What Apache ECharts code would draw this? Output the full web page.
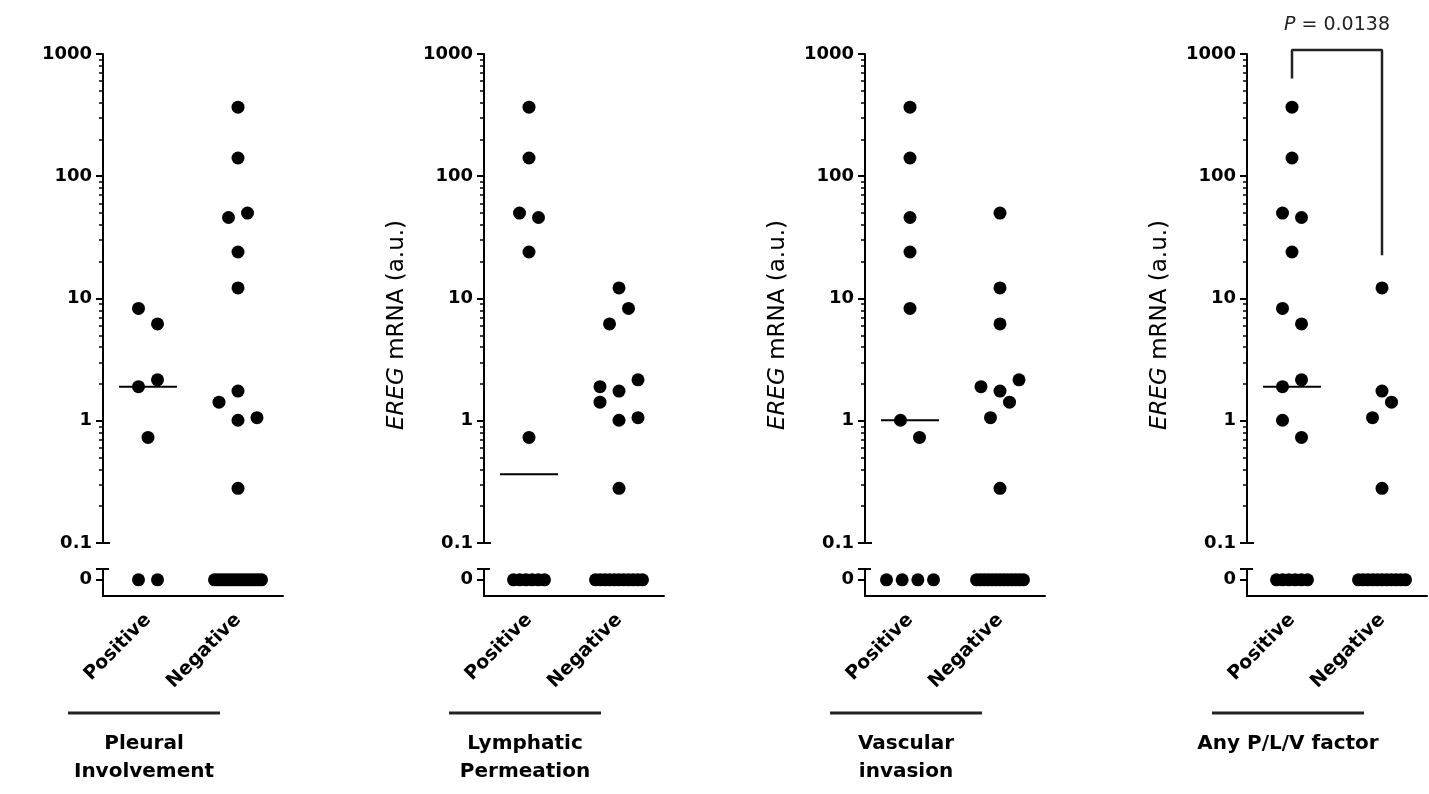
<!DOCTYPE html>
<html>
<head>
<meta charset="utf-8">
<script src="https://cdn.jsdelivr.net/npm/echarts@6/dist/echarts.min.js"></script>
<style>
  html, body { margin: 0; background: #fff; }
  #chart { width: 1429px; height: 794px; }
</style>
</head>
<body>
<div id="chart"></div>
<script>
// EREG mRNA (a.u.) per patient, grouped by pathology factor; 0 = not detected
const groups = ['Positive', 'Negative']
const factorNames = ['Pleural\nInvolvement', 'Lymphatic\nPermeation', 'Vascular\ninvasion', 'Any P/L/V factor']
const yTicks = [0.1, 1, 10, 100, 1000]

const pleuralPos = [8.3, 6.2, 1.9, 2.16, 0.73, 0, 0]
const pleuralNeg = [367, 141, 46, 50, 24, 12.2, 1.75, 1.42, 1.01, 1.06, 0.28,
  0, 0, 0, 0, 0, 0, 0, 0, 0, 0, 0, 0, 0, 0, 0]
const lymphPos = [367, 141, 50, 46, 24, 0.73, 0, 0, 0, 0, 0, 0]
const lymphNeg = [12.2, 6.2, 8.3, 1.9, 1.75, 2.16, 1.42, 1.01, 1.06, 0.28,
  0, 0, 0, 0, 0, 0, 0, 0, 0, 0, 0]
const vascPos = [367, 141, 46, 24, 8.3, 1.01, 0.73, 0, 0, 0, 0]
const vascNeg = [50, 12.2, 6.2, 1.9, 1.75, 2.16, 1.06, 1.42, 0.28,
  0, 0, 0, 0, 0, 0, 0, 0, 0, 0, 0, 0, 0]
const anyPos = [367, 141, 50, 46, 24, 8.3, 6.2, 1.9, 2.16, 1.01, 0.73, 0, 0, 0, 0, 0, 0]
const anyNeg = [12.2, 1.75, 1.06, 1.42, 0.28, 0, 0, 0, 0, 0, 0, 0, 0, 0, 0, 0]

// significance bracket on the last panel
const pValue = '0.0138'
const bracketY = [630, 1080, 22.6] // left leg end, top, right leg end

const panels = [
  { title: factorNames[0], pos: pleuralPos, neg: pleuralNeg, yTitle: false },
  { title: factorNames[1], pos: lymphPos, neg: lymphNeg, yTitle: true },
  { title: factorNames[2], pos: vascPos, neg: vascNeg, yTitle: true },
  { title: factorNames[3], pos: anyPos, neg: anyNeg, yTitle: true }
]

// layout
const PANEL_LEFT = [103, 484, 865, 1247]
const PANEL_W = 180
const MAIN_TOP = 54, MAIN_H = 489
const ZERO_TOP = 569, ZERO_H = 27
const PX = PANEL_W / 2 // pixels per x unit (x axis runs 0..2)
const STEP = 19 / PX, SPAN = 47 / PX, DENSE = 6.2 / PX
const MEDIAN_HALF = 29 / PX
const FONT = 'DejaVu Sans'
const INK = '#000'

// log-scale row binning, GraphPad-like scatter spreading
const BIN_W = 0.3, BIN_ORIGIN = 0.155

const minorTicks = []
for (let e = -1; e < 3; e++) {
  for (let k = 2; k <= 9; k++) minorTicks.push(+(k * Math.pow(10, e)).toPrecision(2))
}

function swarm(values, center) {
  const rows = {}
  values.forEach(v => {
    const key = v === 0 ? 'zero' : Math.floor((Math.log10(v) - BIN_ORIGIN) / BIN_W)
    if (!rows[key]) rows[key] = []
    rows[key].push(v)
  })
  const main = [], zero = []
  Object.keys(rows).forEach(key => {
    const row = rows[key]
    const n = row.length
    let step = 0
    if (n > 1) step = Math.min(n > 4 ? DENSE : STEP, SPAN / (n - 1))
    row.forEach((v, i) => {
      const pt = [center + (i - (n - 1) / 2) * step, v]
      if (v === 0) zero.push(pt)
      else main.push(pt)
    })
  })
  return { main, zero }
}

function median(values) {
  const s = values.slice().sort((a, b) => a - b)
  const m = s.length >> 1
  return s.length % 2 ? s[m] : (s[m - 1] + s[m]) / 2
}

const grid = [], xAxis = [], yAxis = [], series = [], graphic = []

const tickLabel = { fontFamily: FONT, fontWeight: 'bold', fontSize: 18, color: INK }

panels.forEach((p, i) => {
  const L = PANEL_LEFT[i]
  grid.push({ left: L, top: MAIN_TOP, width: PANEL_W, height: MAIN_H, outerBoundsMode: 'none' })
  grid.push({ left: L, top: ZERO_TOP, width: PANEL_W, height: ZERO_H, outerBoundsMode: 'none' })

  // x axes: hidden value axes for placing points, visible category axis for labels
  xAxis.push({ type: 'value', gridIndex: 2 * i, min: 0, max: 2, show: false })
  xAxis.push({
    type: 'value', gridIndex: 2 * i + 1, min: 0, max: 2, show: false, position: 'bottom',
    axisLine: { onZero: false }
  })
  xAxis.push({
    type: 'category', gridIndex: 2 * i + 1, data: groups, position: 'bottom',
    axisLine: { onZero: false, lineStyle: { color: INK, width: 2 } },
    axisTick: { alignWithLabel: true, length: 7, lineStyle: { color: INK, width: 2 } },
    axisLabel: { rotate: 45, interval: 0, margin: 21, fontFamily: FONT, fontWeight: 'bold', fontSize: 19, color: INK },
    splitLine: { show: false }
  })

  // main log axis
  yAxis.push({
    type: 'log', logBase: 10, gridIndex: 2 * i, min: 0.1, max: 1000, position: 'left',
    axisLine: { show: true, lineStyle: { color: INK, width: 2 } },
    axisTick: { show: true, length: 7, lineStyle: { color: INK, width: 2 } },
    axisLabel: { margin: 11, ...tickLabel, formatter: v => String(+(+v).toPrecision(3)) },
    splitLine: { show: false }
  })
  // minor ticks
  yAxis.push({
    type: 'log', logBase: 10, gridIndex: 2 * i, min: 0.1, max: 1000, position: 'left',
    axisLine: { show: false },
    axisTick: { show: true, length: 4, customValues: minorTicks, lineStyle: { color: INK, width: 1.5 } },
    axisLabel: { show: false }, splitLine: { show: false }
  })
  // break cap at 0.1 (inside half)
  yAxis.push({
    type: 'log', logBase: 10, gridIndex: 2 * i, min: 0.1, max: 1000, position: 'left',
    axisLine: { show: false },
    axisTick: { show: true, inside: true, length: 7, customValues: [yTicks[0]], lineStyle: { color: INK, width: 2 } },
    axisLabel: { show: false }, splitLine: { show: false }
  })
  // zero segment
  yAxis.push({
    type: 'value', gridIndex: 2 * i + 1, min: -1.5, max: 1, position: 'left',
    axisLine: { show: true, lineStyle: { color: INK, width: 2 } },
    axisTick: { show: true, length: 7, customValues: [0, 1], lineStyle: { color: INK, width: 2 } },
    axisLabel: { margin: 11, ...tickLabel, customValues: [0] },
    splitLine: { show: false }
  })
  yAxis.push({
    type: 'value', gridIndex: 2 * i + 1, min: -1.5, max: 1, position: 'left',
    axisLine: { show: false },
    axisTick: { show: true, inside: true, length: 6, customValues: [1], lineStyle: { color: INK, width: 2 } },
    axisLabel: { show: false }, splitLine: { show: false }
  })

  ;[p.pos, p.neg].forEach((vals, g) => {
    const center = 0.5 + g
    const pts = swarm(vals, center)
    series.push({
      type: 'scatter', xAxisIndex: 3 * i, yAxisIndex: 5 * i, data: pts.main,
      symbolSize: 13, itemStyle: { color: INK, opacity: 1 }, silent: true, z: 3
    })
    series.push({
      type: 'scatter', xAxisIndex: 3 * i + 1, yAxisIndex: 5 * i + 3, data: pts.zero,
      symbolSize: 13, itemStyle: { color: INK, opacity: 1 }, silent: true, z: 3
    })
    const m = median(vals)
    if (m > 0) {
      series.push({
        type: 'line', xAxisIndex: 3 * i, yAxisIndex: 5 * i,
        data: [[center - MEDIAN_HALF, m], [center + MEDIAN_HALF, m]],
        symbol: 'none', lineStyle: { color: INK, width: 2 }, silent: true, z: 2
      })
    }
  })

  // group bar and factor name under the axis
  const cx = L + 41
  graphic.push({
    type: 'line', shape: { x1: cx - 76, y1: 713, x2: cx + 76, y2: 713 },
    style: { stroke: '#222', lineWidth: 3 }
  })
  graphic.push({
    type: 'text', x: cx, y: 730,
    style: {
      text: p.title, fontFamily: FONT, fontWeight: 'bold', fontSize: 20, lineHeight: 28,
      fill: INK, align: 'center', verticalAlign: 'top'
    }
  })
  if (p.yTitle) {
    graphic.push({
      type: 'text', x: L - 87, y: 325, rotation: Math.PI / 2,
      style: {
        text: '{it|EREG} mRNA (a.u.)', fontFamily: FONT, fontSize: 23, fill: INK,
        align: 'center', verticalAlign: 'middle',
        rich: { it: { fontFamily: FONT, fontSize: 23, fontStyle: 'italic', fill: INK } }
      }
    })
  }
})

// P-value bracket on the last panel
const last = panels.length - 1
series.push({
  type: 'line', xAxisIndex: 3 * last, yAxisIndex: 5 * last, clip: false,
  data: [[0.5, bracketY[0]], [0.5, bracketY[1]], [1.5, bracketY[1]], [1.5, bracketY[2]]],
  symbol: 'none', lineStyle: { color: '#222', width: 2.5 }, silent: true
})
graphic.push({
  type: 'text', x: PANEL_LEFT[last] + 90, y: 25,
  style: {
    text: '{it|P} = ' + pValue, fontFamily: FONT, fontSize: 19, fill: '#222',
    align: 'center', verticalAlign: 'middle',
    rich: { it: { fontFamily: FONT, fontSize: 19, fontStyle: 'italic', fill: '#222' } }
  }
})

const chart = echarts.init(document.getElementById('chart'))
chart.setOption({
  animation: false,
  backgroundColor: '#fff',
  grid, xAxis, yAxis, series, graphic
})
window.addEventListener('resize', () => chart.resize())
</script>
</body>
</html>
